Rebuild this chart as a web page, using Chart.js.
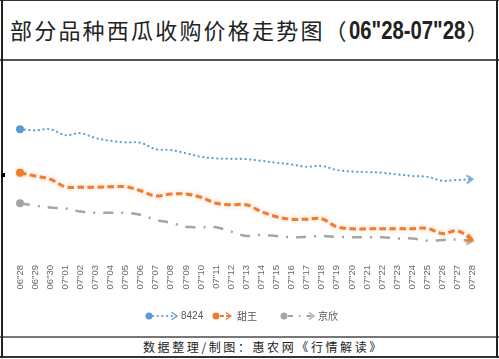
<!DOCTYPE html>
<html>
<head>
<meta charset="utf-8">
<script src="https://cdn.jsdelivr.net/npm/chart.js@4"></script>
<style>
  body { margin: 0; background: #fff; }
  #frame { position: relative; width: 499px; height: 359px; overflow: hidden; background: #fff; }
  .hl { position: absolute; left: 0; width: 499px; }
  .vl { position: absolute; top: 0; width: 2px; height: 358px; background: #222; }
  #title { position: absolute; left: 10px; top: 14px; line-height: 30px; white-space: nowrap;
    font-family: "Noto Sans CJK SC", sans-serif; font-size: 22px; letter-spacing: 2.2px; color: #222; }
  #title .num { display: inline-block; font-family: "Liberation Sans", Arial, sans-serif; font-weight: 900;
    font-size: 26px; letter-spacing: 0; transform: scaleX(0.78); transform-origin: left center; width: 118px; }
  #footer { position: absolute; left: 143px; top: 338px; line-height: 18px; white-space: nowrap;
    font-family: "Noto Sans CJK SC", sans-serif; font-size: 12px; letter-spacing: 2.6px; color: #222; }
  #box { position: absolute; left: 0; top: 61px; width: 499px; height: 276px; }
</style>
</head>
<body>
<div id="frame">
  <div class="hl" style="top:0;height:1px;background:#333"></div>
  <div class="hl" style="top:59px;height:2px;background:#555"></div>
  <div class="hl" style="top:336px;height:2px;background:#777"></div>
  <div class="hl" style="top:356px;height:2px;background:#333"></div>
  <div class="vl" style="left:1px"></div>
  <div class="vl" style="left:496px"></div>
  <div style="position:absolute;left:1px;top:173px;width:4px;height:4px;background:#000"></div>
  <div id="title">部分品种西瓜收购价格走势图（<span class="num">06"28-07"28</span>）</div>
  <div id="box"><canvas id="myChart"></canvas></div>
  <div id="footer">数据整理/制图：惠农网《行情解读》</div>
</div>
<script>
const dates = ['06"28', '06"29', '06"30', '07"01', '07"02', '07"03', '07"04', '07"05', '07"06', '07"07',
  '07"08', '07"09', '07"10', '07"11', '07"12', '07"13', '07"14', '07"15', '07"16', '07"17', '07"18',
  '07"19', '07"20', '07"21', '07"22', '07"23', '07"24', '07"25', '07"26', '07"27', '07"28'];

const seriesNames = ["8424", "甜王", "京欣"];

const price8424 = [3.02, 2.99, 3.02, 2.87, 2.92, 2.80, 2.73, 2.69, 2.68, 2.52, 2.50, 2.42, 2.33, 2.29, 2.28,
  2.27, 2.23, 2.18, 2.14, 2.08, 2.10, 2.00, 1.96, 1.95, 1.93, 1.89, 1.85, 1.83, 1.73, 1.75, 1.77];
const priceTianwang = [1.93, 1.85, 1.77, 1.58, 1.57, 1.57, 1.58, 1.58, 1.48, 1.35, 1.40, 1.40, 1.32, 1.17, 1.13,
  1.13, 0.96, 0.83, 0.77, 0.77, 0.78, 0.58, 0.53, 0.53, 0.53, 0.53, 0.53, 0.54, 0.41, 0.48, 0.25];
const priceJingxin = [1.17, 1.11, 1.06, 1.04, 0.96, 0.93, 0.93, 0.93, 0.88, 0.75, 0.68, 0.58, 0.57, 0.57, 0.46,
  0.35, 0.38, 0.35, 0.32, 0.33, 0.35, 0.33, 0.32, 0.32, 0.32, 0.29, 0.29, 0.23, 0.25, 0.26, 0.23];

const colors = ["#5b9bd5", "#ed7d31", "#a5a5a5"];
const dashes = [[0.1, 4.6], [6.5, 3.5], [10, 8, 2, 8]];
const widths = [2.2, 3, 2.5];
const caps = ["round", "butt", "butt"];

// open arrow head, tip at the image centre
function arrowImage(color) {
  const c = document.createElement("canvas");
  c.width = 20;
  c.height = 12;
  const g = c.getContext("2d");
  g.strokeStyle = color;
  g.lineWidth = 1.6;
  g.lineJoin = "miter";
  g.beginPath();
  g.moveTo(4, 2);
  g.lineTo(10, 6);
  g.lineTo(4, 10);
  g.stroke();
  return c;
}
const arrows = colors.map(arrowImage);

const last = dates.length - 1;

function makeDataset(label, data, i) {
  return {
    label: label,
    data: data,
    borderColor: colors[i],
    backgroundColor: colors[i],
    borderWidth: widths[i],
    borderDash: dashes[i],
    borderCapStyle: caps[i],
    tension: 0.35,
    fill: false,
    pointRadius: (c) => (c.dataIndex === 0 ? 4 : c.dataIndex === last ? 5 : 0),
    pointStyle: (c) => (c.dataIndex === last ? arrows[i] : "circle"),
    pointBorderWidth: 0,
    pointBackgroundColor: colors[i],
    pointRotation: (c) => {
      if (c.dataIndex !== last) return 0;
      const sx = c.chart.scales.x, sy = c.chart.scales.y;
      const dx = sx.getPixelForValue(last) - sx.getPixelForValue(last - 1);
      const dy = sy.getPixelForValue(data[last]) - sy.getPixelForValue(data[last - 1]);
      return Math.atan2(dy * 0.6, dx) * 180 / Math.PI;
    },
  };
}

// legend drawn on the canvas with each series' own line style
const lineLegend = {
  id: "lineLegend",
  afterDraw(chart) {
    const ctx = chart.ctx;
    const y = 255;
    const spots = [[149, 177, 181], [216, 231, 237], [284, 314, 318]];
    chart.data.datasets.forEach((ds, i) => {
      const [cx, tip, tx] = spots[i];
      ctx.save();
      ctx.strokeStyle = ds.borderColor;
      ctx.lineWidth = Math.min(ds.borderWidth, 2.2);
      ctx.lineCap = ds.borderCapStyle;
      ctx.setLineDash(i === 2 ? [5, 6, 1.5, 6] : i === 1 ? [4, 2] : ds.borderDash);
      ctx.beginPath();
      ctx.moveTo(cx + 4, y);
      ctx.lineTo(tip - 1, y);
      ctx.stroke();
      ctx.setLineDash([]);
      ctx.lineWidth = 1.3;
      ctx.beginPath();
      ctx.moveTo(tip - 5, y - 3.5);
      ctx.lineTo(tip, y);
      ctx.lineTo(tip - 5, y + 3.5);
      ctx.stroke();
      ctx.fillStyle = ds.borderColor;
      ctx.beginPath();
      ctx.arc(cx, y, 3.5, 0, Math.PI * 2);
      ctx.fill();
      ctx.fillStyle = "#595959";
      ctx.font = i === 0 ? '10px "Liberation Sans"' : '10px "Noto Sans CJK SC"';
      ctx.textBaseline = "middle";
      ctx.fillText(ds.label, tx, y + 0.5);
      ctx.restore();
    });
  },
};

// soft glow under the orange line
const glow = {
  id: "glow",
  beforeDatasetDraw(chart, args) {
    if (args.index === 1) {
      chart.ctx.save();
      chart.ctx.shadowColor = "rgba(237,125,49,0.45)";
      chart.ctx.shadowBlur = 4;
    }
  },
  afterDatasetDraw(chart, args) {
    if (args.index === 1) chart.ctx.restore();
  },
};

new Chart(document.getElementById("myChart"), {
  type: "line",
  data: {
    labels: dates,
    datasets: [
      makeDataset(seriesNames[0], price8424, 0),
      makeDataset(seriesNames[1], priceTianwang, 1),
      makeDataset(seriesNames[2], priceJingxin, 2),
    ],
  },
  options: {
    responsive: true,
    maintainAspectRatio: false,
    animation: false,
    layout: { padding: { top: 9, left: 20, right: 26, bottom: 0 } },
    plugins: { legend: { display: false }, tooltip: { enabled: false } },
    scales: {
      x: {
        grid: { display: false, drawTicks: false },
        border: { display: false },
        ticks: {
          autoSkip: false,
          minRotation: 90,
          maxRotation: 90,
          padding: 15,
          color: "#666",
          font: { family: "Liberation Sans", size: 9.5 },
        },
        afterFit: (scale) => { scale.height = 87; },
      },
      y: { display: false, min: 0, max: 4.5 },
    },
  },
  plugins: [lineLegend, glow],
});
</script>
</body>
</html>
